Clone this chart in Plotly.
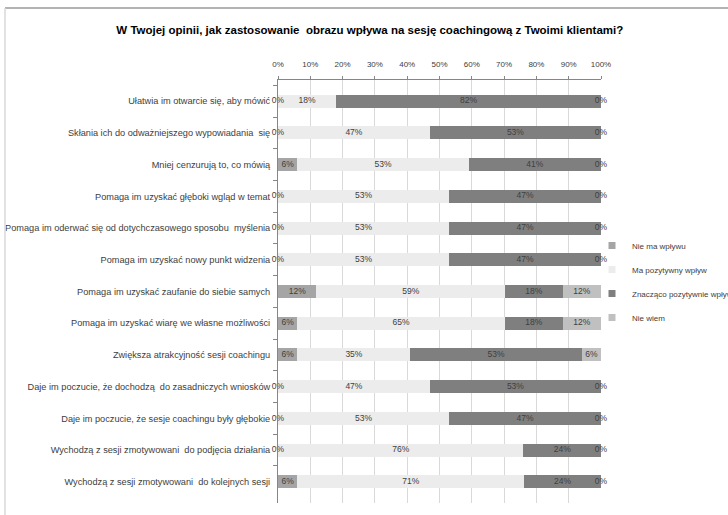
import plotly.graph_objects as go

categories = [
    "Ułatwia im otwarcie się, aby mówić",
    "Skłania ich do odważniejszego wypowiadania  się",
    "Mniej cenzurują to, co mówią",
    "Pomaga im uzyskać głęboki wgląd w temat",
    "Pomaga im oderwać się od dotychczasowego sposobu  myślenia",
    "Pomaga im uzyskać nowy punkt widzenia",
    "Pomaga im uzyskać zaufanie do siebie samych",
    "Pomaga im uzyskać wiarę we własne możliwości",
    "Zwiększa atrakcyjność sesji coachingu",
    "Daje im poczucie, że dochodzą  do zasadniczych wniosków",
    "Daje im poczucie, że sesje coachingu były głębokie",
    "Wychodzą z sesji zmotywowani  do podjęcia działania",
    "Wychodzą z sesji zmotywowani  do kolejnych sesji",
]
series_names = ["Nie ma wpływu", "Ma pozytywny wpływ", "Znacząco pozytywnie wpływa", "Nie wiem"]
nie_ma = [0, 0, 6, 0, 0, 0, 12, 6, 6, 0, 0, 0, 6]
ma_poz = [18, 47, 53, 53, 53, 53, 59, 65, 35, 47, 53, 76, 71]
znaczaco = [82, 53, 41, 47, 47, 47, 18, 18, 53, 53, 47, 24, 24]
nie_wiem = [0, 0, 0, 0, 0, 0, 12, 12, 6, 0, 0, 0, 0]
tick_vals = [0, 10, 20, 30, 40, 50, 60, 70, 80, 90, 100]
tick_text = ["0%", "10%", "20%", "30%", "40%", "50%", "60%", "70%", "80%", "90%", "100%"]

colors = ["#a5a5a5", "#ececec", "#7f7f7f", "#c0c0c0"]
FONT = "Liberation Sans, Arial, sans-serif"
series = [nie_ma, ma_poz, znaczaco, nie_wiem]

fig = go.Figure()
for name, vals, col in zip(series_names, series, colors):
    fig.add_trace(go.Bar(
        y=categories, x=vals, orientation="h", name=name,
        marker=dict(color=col, line=dict(width=0)),
        showlegend=False, hoverinfo="x+name",
    ))

# labels at centers of normalized segments
tx, ty, tt = [], [], []
for i, cat in enumerate(categories):
    total = sum(s[i] for s in series)
    start = 0.0
    for s in series:
        w = s[i] / total * 100
        tx.append(start + w / 2)
        ty.append(cat)
        tt.append(f"{s[i]}%")
        start += w
fig.add_trace(go.Scatter(
    x=tx, y=ty, text=tt, mode="text", showlegend=False, hoverinfo="skip",
    cliponaxis=False,
    textfont=dict(family=FONT, size=8.5, color="#404040"),
))

# legend entries
for i, (name, col) in enumerate(zip(series_names, colors)):
    fig.add_trace(go.Scatter(
        x=[None], y=[None], mode="markers", name=name, legendgroup=f"g{i}",
        marker=dict(symbol="square", size=7, color=col),
    ))

fig.update_layout(
    barmode="stack", barnorm="percent", bargap=0.59,
    width=728, height=515,
    margin=dict(l=278, r=127, t=80, b=12, autoexpand=False),
    paper_bgcolor="white", plot_bgcolor="white",
    font=dict(family=FONT, color="#404040"),
    title=dict(
        text="<b>W Twojej opinii, jak zastosowanie  obrazu wpływa na sesję coachingową z Twoimi klientami?</b>",
        x=0.508, xanchor="center", y=1 - 30 / 515, yanchor="middle",
        font=dict(family=FONT, size=11.5, color="#000000"),
    ),
    xaxis=dict(
        side="top", range=[0, 100], tickvals=tick_vals, ticktext=tick_text,
        showgrid=True, gridcolor="#d9d9d9", gridwidth=1,
        showline=True, linecolor="#868686", linewidth=1,
        ticks="outside", ticklen=3, tickcolor="#868686",
        tickfont=dict(family=FONT, size=8, color="#404040"),
        ticklabelstandoff=6,
        zeroline=False, fixedrange=True,
    ),
    yaxis=dict(
        autorange="reversed", showline=True, linecolor="#868686", linewidth=1,
        ticks="outside", tickson="boundaries", ticklen=4, tickcolor="#868686",
        tickfont=dict(family=FONT, size=9.2, color="#404040"),
        ticklabelstandoff=5,
        showgrid=False, fixedrange=True,
    ),
    legend=dict(
        x=(592 - 278) / 323, y=(503 - 231) / 423, xanchor="left", yanchor="top",
        font=dict(family=FONT, size=8, color="#404040"),
        tracegroupgap=5, itemwidth=30, bgcolor="rgba(0,0,0,0)",
    ),
    shapes=[
        dict(type="line", xref="paper", yref="paper",
             x0=(5 - 278) / 323, x1=(728 - 278) / 323,
             y0=(503 - 8) / 423, y1=(503 - 8) / 423,
             line=dict(color="#9a9a9a", width=1.5)),
        dict(type="line", xref="paper", yref="paper",
             x0=(5 - 278) / 323, x1=(5 - 278) / 323,
             y0=(503 - 8) / 423, y1=(503 - 515) / 423,
             line=dict(color="#d9d9d9", width=1.5)),
    ],
)

fig.write_html("out.html")
